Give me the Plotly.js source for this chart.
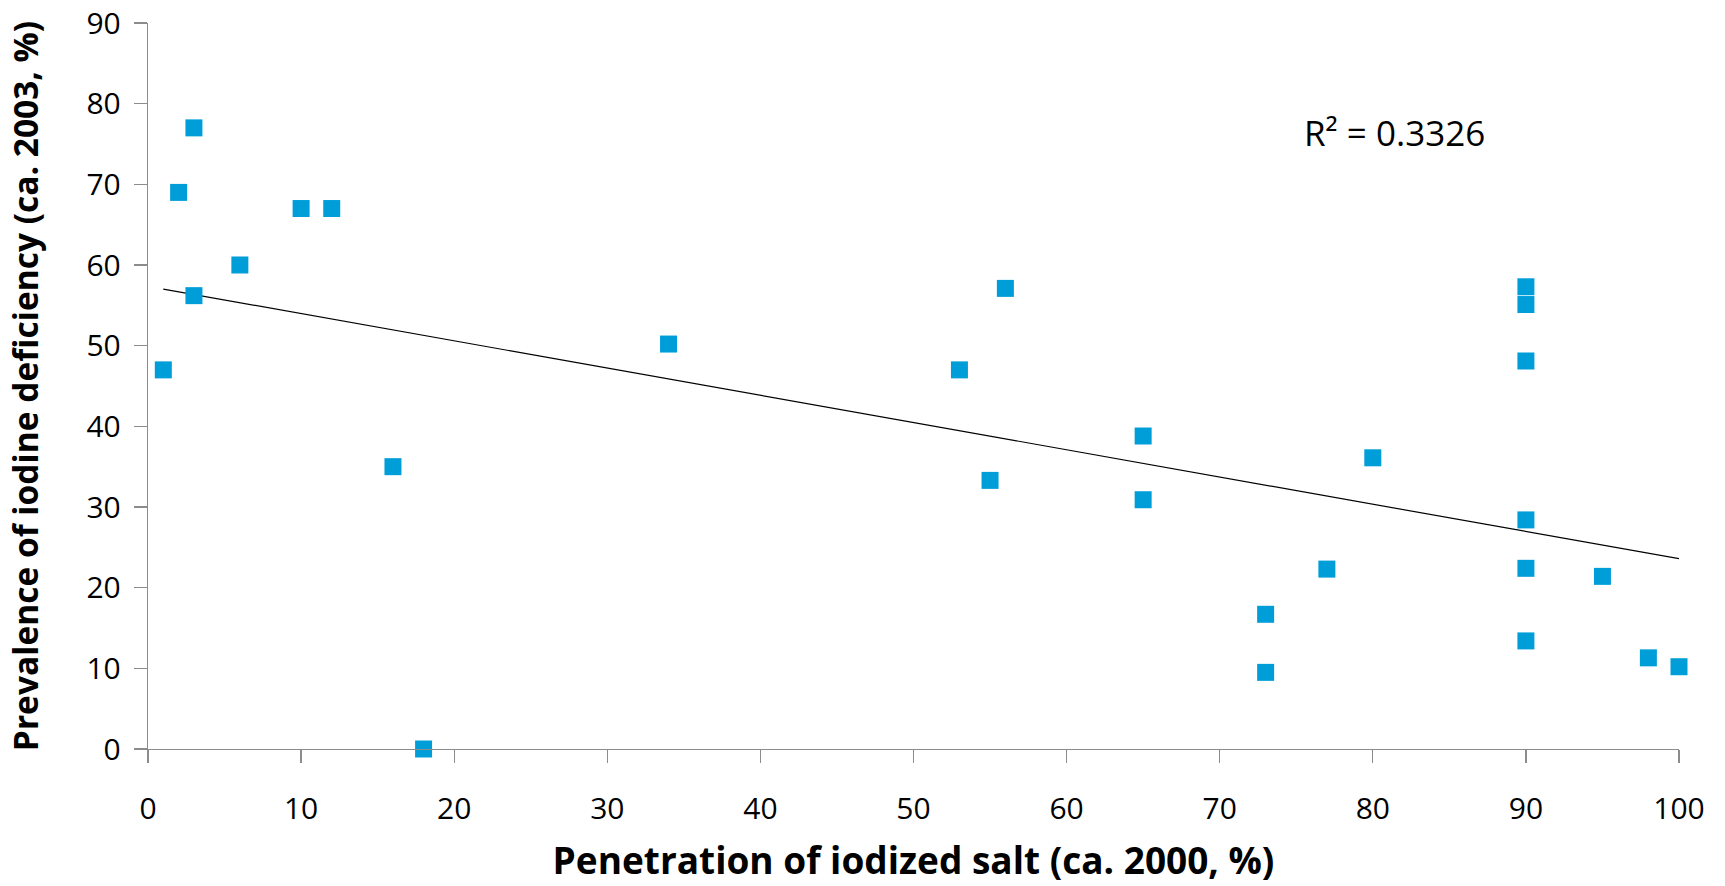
<!DOCTYPE html>
<html>
<head>
<meta charset="utf-8">
<script src="https://cdn.plot.ly/plotly-3.0.1.min.js"></script>
<style>html,body{margin:0;padding:0;background:#fff;}#chart{width:1725px;height:886px;}</style>
</head>
<body>
<div id="chart"></div>
<script>
// Penetration of iodized salt (ca. 2000, %)
const saltPenetration = [1, 2, 3, 3, 6, 10, 12, 16, 18, 34, 53, 55, 56, 65, 65, 73, 73, 77, 80, 90, 90, 90, 90, 90, 90, 95, 98, 100];
// Prevalence of iodine deficiency (ca. 2003, %)
const iodineDeficiency = [47, 69, 77, 56.2, 60, 67, 67, 35, 0, 50.2, 47, 33.3, 57.1, 38.8, 30.9, 16.7, 9.5, 22.3, 36.1, 57.3, 55.1, 48.1, 28.4, 22.4, 13.4, 21.4, 11.3, 10.2];
const xTicks = [0, 10, 20, 30, 40, 50, 60, 70, 80, 90, 100];
const yTicks = [0, 10, 20, 30, 40, 50, 60, 70, 80, 90];
const rSquaredLabel = "R² = 0.3326";

// Linear least-squares trend line (as in the original spreadsheet chart)
const n = saltPenetration.length;
const mx = saltPenetration.reduce((a, b) => a + b, 0) / n;
const my = iodineDeficiency.reduce((a, b) => a + b, 0) / n;
let sxy = 0, sxx = 0;
for (let i = 0; i < n; i++) {
  sxy += (saltPenetration[i] - mx) * (iodineDeficiency[i] - my);
  sxx += (saltPenetration[i] - mx) ** 2;
}
const slope = sxy / sxx;
const intercept = my - slope * mx;
const xMin = Math.min(...saltPenetration), xMax = Math.max(...saltPenetration);
const trendX = [xMin, xMax];
const trendY = trendX.map(x => intercept + slope * x);

const font = "'Open Sans', 'DejaVu Sans', sans-serif";

const data = [
  {
    type: 'scatter', mode: 'lines', x: trendX, y: trendY,
    line: {color: '#000000', width: 1.2}, hoverinfo: 'skip', showlegend: false, cliponaxis: false
  },
  {
    type: 'scatter', mode: 'markers', x: saltPenetration, y: iodineDeficiency,
    marker: {symbol: 'square', size: 17, color: '#009ED8', line: {width: 0}},
    showlegend: false, cliponaxis: false
  }
];

const layout = {
  width: 1725, height: 886,
  margin: {l: 148, r: 46, t: 23, b: 137},
  paper_bgcolor: '#ffffff', plot_bgcolor: '#ffffff',
  font: {family: font, color: '#000000'},
  xaxis: {
    range: [0, 100], tickvals: xTicks, ticktext: xTicks.map(String),
    showgrid: false, zeroline: false, showline: true, linecolor: '#8c8c8c', linewidth: 1.3,
    ticks: 'outside', ticklen: 13, tickcolor: '#8c8c8c', tickwidth: 1.3,
    tickfont: {size: 30, family: font, color: '#000'},
    ticklabelstandoff: 20, ticklabeloverflow: 'allow',
    title: {text: '<b>Penetration of iodized salt (ca. 2000, %)</b>', font: {size: 37, family: font, color: '#000'}, standoff: 20}
  },
  yaxis: {
    range: [0, 90], tickvals: yTicks, ticktext: yTicks.map(String),
    showgrid: false, zeroline: false, showline: true, linecolor: '#8c8c8c', linewidth: 1.3,
    ticks: 'outside', ticklen: 13, tickcolor: '#8c8c8c', tickwidth: 1.3,
    tickfont: {size: 30, family: font, color: '#000'},
    ticklabelstandoff: 7, ticklabeloverflow: 'allow',
    title: {text: '<b>Prevalence of iodine deficiency (ca. 2003, %)</b>', font: {size: 33.5, family: font, color: '#000'}, standoff: 37}
  },
  annotations: [
    {x: 81.4, y: 76.4, xref: 'x', yref: 'y', text: rSquaredLabel, showarrow: false,
     font: {size: 35, family: font, color: '#000'}, xanchor: 'center', yanchor: 'middle'}
  ]
};

Plotly.newPlot('chart', data, layout, {displayModeBar: false, staticPlot: true});
</script>
</body>
</html>
